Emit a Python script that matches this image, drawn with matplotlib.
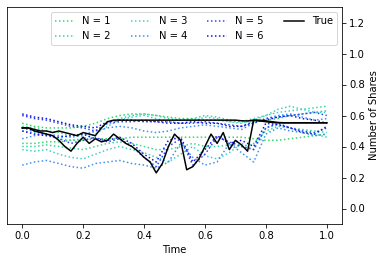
import numpy as np
import matplotlib
matplotlib.use("Agg")
import matplotlib.pyplot as plt

# time grids
t_est = [i * 0.04 for i in range(26)]
t_true = [i * 0.02 for i in range(51)]

# true shares (two assets)
true_a = [0.52, 0.52, 0.51, 0.50, 0.50, 0.49, 0.50, 0.49, 0.48, 0.47,
          0.49, 0.48, 0.47, 0.52, 0.56, 0.57, 0.57, 0.57, 0.57, 0.57,
          0.57, 0.57, 0.57, 0.57, 0.57, 0.57, 0.57, 0.57, 0.57, 0.57,
          0.57, 0.57, 0.57, 0.57, 0.57, 0.57, 0.566, 0.565, 0.57, 0.57,
          0.565, 0.56, 0.555, 0.553, 0.553, 0.553, 0.553, 0.553, 0.553, 0.553,
          0.553]
true_b = [0.52, 0.52, 0.50, 0.49, 0.48, 0.47, 0.44, 0.40, 0.37, 0.42,
          0.46, 0.42, 0.45, 0.43, 0.44, 0.48, 0.45, 0.42, 0.40, 0.37,
          0.33, 0.30, 0.23, 0.29, 0.40, 0.48, 0.44, 0.25, 0.27, 0.32,
          0.40, 0.48, 0.42, 0.49, 0.38, 0.44, 0.41, 0.37, 0.57, 0.565,
          0.56, 0.555, 0.553, 0.553, 0.553, 0.553, 0.553, 0.553, 0.553, 0.553,
          0.553]

# estimates for N = 1..6 (upper / lower asset)
est_upper = {
    1: [0.55, 0.53, 0.52, 0.52, 0.52, 0.53, 0.55, 0.58, 0.60, 0.61, 0.61, 0.60, 0.59,
        0.58, 0.58, 0.57, 0.57, 0.56, 0.56, 0.56, 0.57, 0.58, 0.60, 0.61, 0.62, 0.63],
    2: [0.53, 0.52, 0.50, 0.49, 0.47, 0.48, 0.50, 0.55, 0.58, 0.60, 0.61, 0.60, 0.58,
        0.57, 0.58, 0.60, 0.59, 0.57, 0.56, 0.58, 0.60, 0.62, 0.63, 0.64, 0.65, 0.66],
    3: [0.50, 0.49, 0.47, 0.45, 0.44, 0.45, 0.48, 0.53, 0.57, 0.59, 0.60, 0.58, 0.56,
        0.55, 0.56, 0.59, 0.58, 0.56, 0.55, 0.57, 0.60, 0.64, 0.66, 0.64, 0.62, 0.62],
    4: [0.45, 0.47, 0.48, 0.47, 0.46, 0.47, 0.50, 0.52, 0.53, 0.52, 0.50, 0.49, 0.50,
        0.52, 0.53, 0.54, 0.53, 0.52, 0.51, 0.55, 0.58, 0.60, 0.61, 0.59, 0.57, 0.58],
    5: [0.60, 0.58, 0.57, 0.55, 0.53, 0.52, 0.50, 0.55, 0.56, 0.56, 0.57, 0.56, 0.56,
        0.55, 0.55, 0.56, 0.55, 0.54, 0.53, 0.55, 0.58, 0.59, 0.60, 0.61, 0.62, 0.60],
    6: [0.61, 0.59, 0.58, 0.56, 0.54, 0.53, 0.52, 0.56, 0.57, 0.57, 0.56, 0.56, 0.55,
        0.55, 0.56, 0.55, 0.55, 0.53, 0.53, 0.56, 0.57, 0.59, 0.60, 0.58, 0.57, 0.55],
}
est_lower = {
    1: [0.42, 0.42, 0.43, 0.43, 0.44, 0.44, 0.45, 0.45, 0.45, 0.46, 0.46, 0.46, 0.46,
        0.46, 0.46, 0.46, 0.46, 0.46, 0.46, 0.45, 0.44, 0.44, 0.45, 0.46, 0.47, 0.48],
    2: [0.40, 0.40, 0.41, 0.40, 0.39, 0.38, 0.40, 0.42, 0.43, 0.42, 0.40, 0.38, 0.38,
        0.40, 0.42, 0.40, 0.40, 0.41, 0.40, 0.42, 0.50, 0.53, 0.52, 0.51, 0.50, 0.49],
    3: [0.38, 0.37, 0.38, 0.35, 0.33, 0.32, 0.35, 0.38, 0.40, 0.38, 0.36, 0.33, 0.30,
        0.35, 0.40, 0.34, 0.32, 0.36, 0.42, 0.38, 0.52, 0.54, 0.52, 0.50, 0.48, 0.46],
    4: [0.28, 0.30, 0.31, 0.29, 0.27, 0.26, 0.29, 0.30, 0.31, 0.29, 0.28, 0.26, 0.30,
        0.42, 0.33, 0.28, 0.30, 0.42, 0.36, 0.30, 0.48, 0.52, 0.50, 0.49, 0.47, 0.48],
    5: [0.52, 0.50, 0.48, 0.45, 0.42, 0.44, 0.46, 0.43, 0.45, 0.40, 0.33, 0.27, 0.40,
        0.45, 0.28, 0.35, 0.46, 0.43, 0.40, 0.38, 0.52, 0.55, 0.52, 0.50, 0.49, 0.52],
    6: [0.50, 0.48, 0.47, 0.46, 0.47, 0.48, 0.45, 0.44, 0.46, 0.42, 0.35, 0.30, 0.44,
        0.46, 0.30, 0.38, 0.47, 0.42, 0.44, 0.40, 0.55, 0.54, 0.52, 0.49, 0.48, 0.53],
}
n_values = [1, 2, 3, 4, 5, 6]

fig = plt.figure(figsize=(386 / 72, 262 / 72), dpi=72)
ax = fig.add_axes([7 / 386, 1 - 224 / 262, 335 / 386, 217 / 262])

colors = ['#2fd66a', '#33d69a', '#3ccfc8', '#3a8ff0', '#2a40f5', '#1010e8']
for n, c in zip(n_values, colors):
    ax.plot(t_est, est_upper[n], ls=':', lw=1.5, color=c, label=f"N = {n}")
    ax.plot(t_est, est_lower[n], ls=':', lw=1.5, color=c, label="_nolegend_")

ax.plot(t_true, true_a, color='black', lw=1.5, label="True")
ax.plot(t_true, true_b, color='black', lw=1.5, label="_nolegend_")

ax.set_xlim(-0.05, 1.05)
ax.set_ylim(-0.1, 1.3)
ax.set_xticks([0.0, 0.2, 0.4, 0.6, 0.8, 1.0])
ax.set_yticks([0.0, 0.2, 0.4, 0.6, 0.8, 1.0, 1.2])
ax.yaxis.tick_right()
ax.yaxis.set_label_position("right")
ax.set_xlabel("Time")
ax.set_ylabel("Number of Shares")
ax.legend(loc='upper right', ncol=4)

fig.savefig("out.png", dpi=72)
